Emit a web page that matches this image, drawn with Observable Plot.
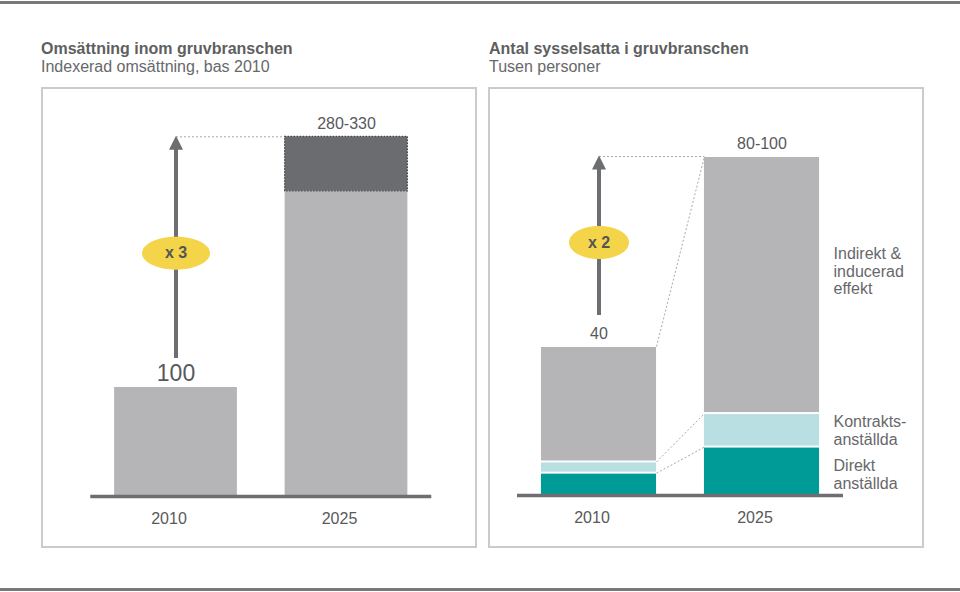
<!DOCTYPE html>
<html><head><meta charset="utf-8">
<script src="https://cdn.jsdelivr.net/npm/d3@7"></script>
<script src="https://cdn.jsdelivr.net/npm/@observablehq/plot@0.6"></script>
<style>
body{margin:0;background:#fff;font-family:"Liberation Sans",Arial,sans-serif;}
#page{position:relative;width:960px;height:592px;overflow:hidden;background:#fff;}
.rule{position:absolute;left:0;width:960px;height:3px;background:#77787a;}
.title{position:absolute;top:40px;font-size:16px;line-height:18px;color:#67686a;white-space:nowrap;}
.title b{display:block;font-weight:bold;color:#5e5f61;}
.panel{position:absolute;top:87px;width:436px;height:461px;box-sizing:border-box;border:2px solid #cbcbcb;}
.panel svg{display:block;}
</style></head>
<body><div id="page">
<div class="rule" style="top:1px"></div>
<div class="title" style="left:41px"><b>Omsättning inom gruvbranschen</b>Indexerad omsättning, bas 2010</div>
<div class="title" style="left:489px"><b>Antal sysselsatta i gruvbranschen</b>Tusen personer</div>
<div class="panel" id="left" style="left:41px"></div>
<div class="panel" id="right" style="left:488px"></div>
<div class="rule" style="top:588px"></div>
</div>
<script>
// ---- data ----
const years = ["2010", "2025"];
const turnoverBase = [100, 280];
const turnoverHigh = [null, 330];
const turnoverLabels = ["100", "280-330"];
const turnoverGrowth = "x 3";

const employSeries = ["Direkt anställda", "Kontraktsanställda", "Indirekt & inducerad effekt"];
const employLegend = ["Direkt\nanställda", "Kontrakts-\nanställda", "Indirekt &\ninducerad\neffekt"];
const employDirect = [6, 13];
const employContract = [3, 9];
const employIndirect = [31, 69];
const employLabels = ["40", "80-100"];
const employGrowth = "x 2";

// ---- styles ----
const FONT = '"Liberation Sans", Arial, sans-serif';
const C = {bar: "#b5b5b7", dark: "#6b6c6f", darkEdge: "#47484a", axis: "#6d6e71", arrow: "#6d6e71",
  yellow: "#f4d449", teal: "#009a97", light: "#b9dfe3", dash: "#a9a9a9", text: "#58595b", legend: "#67686a"};
const idx = years.map((_, i) => i);

const upArrow = {draw(ctx) { ctx.moveTo(0, -1); ctx.lineTo(7, 13); ctx.lineTo(-7, 13); ctx.closePath(); }};
function ellipse(rx, ry) {
  const k = 0.5523;
  return {draw(ctx) {
    ctx.moveTo(rx, 0);
    ctx.bezierCurveTo(rx, ry * k, rx * k, ry, 0, ry);
    ctx.bezierCurveTo(-rx * k, ry, -rx, ry * k, -rx, 0);
    ctx.bezierCurveTo(-rx, -ry * k, -rx * k, -ry, 0, -ry);
    ctx.bezierCurveTo(rx * k, -ry, rx, -ry * k, rx, 0);
    ctx.closePath();
  }};
}
const style = {fontFamily: FONT, color: C.text, background: "transparent", overflow: "visible"};

// ---- left panel ----
{
  const H = 0.36;
  const top = d3.max(turnoverHigh);
  const bars = idx.map(i => ({i, v: turnoverBase[i]}));
  const ranges = idx.filter(i => turnoverHigh[i] != null).map(i => ({i, lo: turnoverBase[i], hi: turnoverHigh[i]}));
  const labels = idx.map(i => ({i, v: turnoverHigh[i] ?? turnoverBase[i], t: turnoverLabels[i]}));
  const growth = [{i: 0, from: turnoverBase[0], to: top, t: turnoverGrowth}];
  const chart = Plot.plot({
    width: 432, height: 457, marginTop: 0, marginBottom: 50, marginLeft: 0, marginRight: 0,
    x: {domain: [0, 1], range: [132.5, 303], label: null},
    y: {domain: [0, top], range: [407, 47.3], axis: null, label: null},
    style,
    marks: [
      Plot.link(growth, {x1: "i", y1: "to", x2: d => d.i + 1 - H, y2: "to", stroke: C.dash, strokeWidth: 1, strokeDasharray: "2,2"}),
      Plot.rect(bars, {x1: d => d.i - H, x2: d => d.i + H, y1: 0, y2: "v", fill: C.bar}),
      Plot.rect(ranges, {x1: d => d.i - H, x2: d => d.i + H, y1: "lo", y2: "hi", fill: C.dark, stroke: C.darkEdge, strokeWidth: 1.3, strokeDasharray: "1.5,1.5"}),
      Plot.ruleY([0], {x1: -0.5, x2: years.length - 0.5, stroke: C.axis, strokeWidth: 3.5}),
      Plot.ruleX(growth, {x: "i", y1: "to", y2: "from", insetTop: 10, insetBottom: 29, stroke: C.arrow, strokeWidth: 4}),
      Plot.dot(growth, {x: "i", y: "to", symbol: upArrow, fill: C.arrow, stroke: "none"}),
      Plot.dot(growth, {x: "i", y: d => (d.from + d.to) / 2, dy: -9, symbol: ellipse(34, 16.5), fill: C.yellow, stroke: "none"}),
      Plot.text(growth, {x: "i", y: d => (d.from + d.to) / 2, dy: -9, text: "t", fontSize: 16, fontWeight: "bold", fill: "#555"}),
      Plot.text(labels.filter(d => d.i === 0), {x: "i", y: "v", text: "t", dy: -14, fontSize: 23, fill: C.text}),
      Plot.text(labels.filter(d => d.i === 1), {x: "i", y: "v", text: "t", dy: -13, fontSize: 16, fill: C.text}),
      Plot.axisX(idx, {tickFormat: i => years[i], tickSize: 0, tickPadding: 16, fontSize: 16, dx: -7, anchor: "bottom", label: null})
    ]
  });
  document.getElementById("left").append(chart);
}

// ---- right panel ----
{
  const H = 0.353;
  const totals = idx.map(i => employDirect[i] + employContract[i] + employIndirect[i]);
  const top = d3.max(totals);
  const segs = [];
  idx.forEach(i => {
    const vals = [employDirect[i], employContract[i], employIndirect[i]];
    const cum = d3.cumsum(vals);
    vals.forEach((v, s) => segs.push({i, s, series: employSeries[s], y1: cum[s] - v, y2: cum[s]}));
  });
  const fills = [C.teal, C.light, C.bar];
  const connectors = [
    {a: totals[0], b: totals[1]},
    {a: employDirect[0] + employContract[0], b: employDirect[1] + employContract[1]},
    {a: employDirect[0], b: employDirect[1]}
  ];
  const growth = [{i: 0, from: totals[0], to: totals[1], t: employGrowth}];
  const labels = idx.map(i => ({i, v: totals[i], t: employLabels[i]}));
  const last = segs.filter(d => d.i === 1);
  const legendDy = [3, 0, -14];
  const chart = Plot.plot({
    width: 432, height: 457, marginTop: 0, marginBottom: 51, marginLeft: 0, marginRight: 0,
    x: {domain: [0, 1], range: [108.5, 271.5], label: null},
    y: {domain: [0, top], range: [406, 406 - top * 3.725], axis: null, label: null},
    style,
    marks: [
      Plot.link(growth, {x1: "i", y1: "to", x2: d => d.i + 1 - H, y2: "to", stroke: C.dash, strokeWidth: 1, strokeDasharray: "2,2"}),
      Plot.link(connectors, {x1: H, y1: "a", x2: 1 - H, y2: "b", stroke: C.dash, strokeWidth: 1, strokeDasharray: "2,2"}),
      Plot.rect(segs, {x1: d => d.i - H, x2: d => d.i + H, y1: "y1", y2: "y2", fill: d => fills[d.s], insetTop: 1, insetBottom: 1}),
      Plot.ruleY([0], {x1: -0.5, x2: years.length - 0.5, stroke: C.axis, strokeWidth: 3.5}),
      Plot.ruleX(growth, {x: "i", y1: "to", y2: "from", insetTop: 10, insetBottom: 31, stroke: C.arrow, strokeWidth: 4}),
      Plot.dot(growth, {x: "i", y: "to", symbol: upArrow, fill: C.arrow, stroke: "none"}),
      Plot.dot(growth, {x: "i", y: d => (d.from + d.to) / 2, dy: -9, symbol: ellipse(30, 16.5), fill: C.yellow, stroke: "none"}),
      Plot.text(growth, {x: "i", y: d => (d.from + d.to) / 2, dy: -9, text: "t", fontSize: 16, fontWeight: "bold", fill: "#555"}),
      Plot.text(labels, {x: "i", y: "v", text: "t", dy: -13, fontSize: 16, fill: C.text}),
      ...last.map(d => Plot.text([d], {x: e => e.i + H, y: e => (e.y1 + e.y2) / 2, text: e => employLegend[e.s], dx: 14, dy: legendDy[d.s], textAnchor: "start", lineHeight: 1.1, fontSize: 16, fill: C.legend})),
      Plot.axisX(idx, {tickFormat: i => years[i], tickSize: 0, tickPadding: 16, fontSize: 16, dx: -7, anchor: "bottom", label: null})
    ]
  });
  document.getElementById("right").append(chart);
}
</script>
</body></html>
